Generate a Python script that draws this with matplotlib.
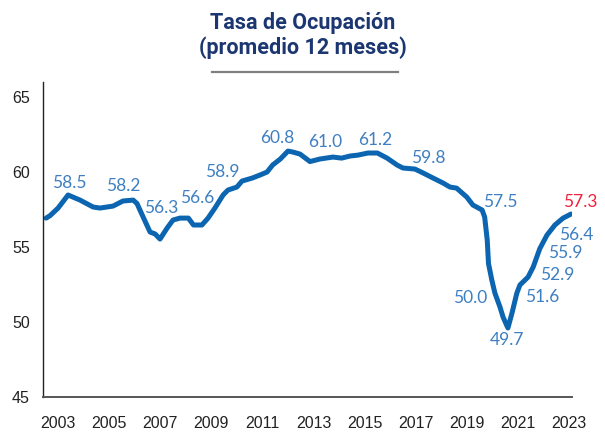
import numpy as np
import matplotlib
matplotlib.use("Agg")
import matplotlib.pyplot as plt
from matplotlib.lines import Line2D

# tasa de ocupacion, promedio movil 12 meses
years = [2002.53, 2002.69, 2003.0, 2003.39, 2003.86, 2004.37, 2004.64, 2005.15,
         2005.54, 2005.94, 2006.09, 2006.33, 2006.6, 2006.8, 2006.99, 2007.27,
         2007.5, 2007.77, 2008.1, 2008.3, 2008.63, 2008.87, 2009.14, 2009.46,
         2009.65, 2010.0, 2010.2, 2010.6, 2010.9, 2011.18, 2011.4, 2011.7,
         2012.0, 2012.2, 2012.47, 2012.86, 2013.25, 2013.76, 2014.1, 2014.43,
         2014.74, 2015.13, 2015.5, 2015.88, 2016.27, 2016.5, 2016.97, 2017.3,
         2017.68, 2018.07, 2018.34, 2018.6, 2019.0, 2019.24, 2019.6, 2019.7,
         2019.8, 2019.85, 2019.98, 2020.1, 2020.3, 2020.42, 2020.61, 2020.77,
         2020.96, 2021.08, 2021.4, 2021.6, 2021.86, 2022.14, 2022.45, 2022.77,
         2023.08]
tasa = [56.93, 57.1, 57.6, 58.47, 58.13, 57.67, 57.6, 57.73,
        58.07, 58.13, 57.9, 57.0, 56.0, 55.87, 55.53, 56.27,
        56.8, 56.93, 56.93, 56.47, 56.47, 56.93, 57.6, 58.47,
        58.8, 59.0, 59.4, 59.6, 59.8, 60.0, 60.47, 60.87,
        61.4, 61.33, 61.2, 60.7, 60.87, 61.0, 60.93, 61.07,
        61.13, 61.27, 61.27, 60.93, 60.47, 60.27, 60.2, 59.93,
        59.6, 59.27, 59.0, 58.93, 58.33, 57.8, 57.47, 57.0,
        55.47, 53.9, 52.8, 51.93, 51.0, 50.33, 49.6, 50.6,
        51.93, 52.47, 53.0, 53.67, 54.9, 55.8, 56.47, 56.93,
        57.2]

# etiquetas: texto, posicion (anio, valor)
lab_text = ["58.5", "58.2", "56.3", "56.6", "58.9", "60.8", "61.0", "61.2",
            "59.8", "57.5", "50.0", "49.7", "51.6", "52.9", "55.9", "56.4", "57.3"]
lab_x = [2003.43, 2005.54, 2007.03, 2008.44, 2009.42, 2011.57, 2013.45, 2015.4,
         2017.48, 2020.3, 2019.12, 2020.57, 2021.94, 2022.53, 2022.84, 2023.3, 2023.43]
lab_y = [59.27, 59.07, 57.6, 58.27, 60.0, 62.27, 62.0, 62.13,
         60.93, 58.0, 51.6, 48.8, 51.67, 53.13, 54.6, 55.8, 58.0]

xticks = list(range(2003, 2024, 2))

fig = plt.figure(figsize=(6.05, 4.32), dpi=100)
ax = fig.add_axes([0.0711, 0.081, 0.8744, 0.729])

ax.plot(years, tasa, color="#0b65b0", lw=3.6, solid_capstyle="round",
        solid_joinstyle="round")

for t, x, y in zip(lab_text, lab_x, lab_y):
    col = "#f0213b" if t == lab_text[-1] else "#3d7fc1"
    ax.text(x, y, t, ha="center", va="center", fontsize=12.5, color=col,
            family="Lato", clip_on=False)

ax.set_xlim(2002.41, 2023.12)
ax.set_ylim(45, 66)
ax.set_yticks([45, 50, 55, 60, 65])
ax.set_xticks(xticks)
ax.set_xticklabels([str(y) for y in xticks])
ax.tick_params(axis="both", length=0, labelsize=11.5, colors="#222222")
ax.tick_params(axis="x", pad=14)
ax.tick_params(axis="y", pad=9.5)
for lbl in ax.get_xticklabels() + ax.get_yticklabels():
    lbl.set_family("Liberation Sans")

ax.spines["top"].set_visible(False)
ax.spines["right"].set_visible(False)
ax.spines["left"].set_color("#222222")
ax.spines["left"].set_linewidth(1.0)
ax.spines["bottom"].set_color("#555555")
ax.spines["bottom"].set_linewidth(1.4)

fig.text(0.5, 1 - 23 / 432, "Tasa de Ocupación", ha="center", va="center",
         fontsize=15.5, fontweight="bold", color="#1b3670", family="Roboto")
fig.text(0.5, 1 - 48 / 432, "(promedio 12 meses)", ha="center", va="center",
         fontsize=15.5, fontweight="bold", color="#1b3670", family="Roboto")
fig.add_artist(Line2D([212 / 605, 398 / 605], [1 - 72 / 432, 1 - 72 / 432],
                      color="#808080", lw=1.6, transform=fig.transFigure))

fig.savefig("out.png", dpi=100)
